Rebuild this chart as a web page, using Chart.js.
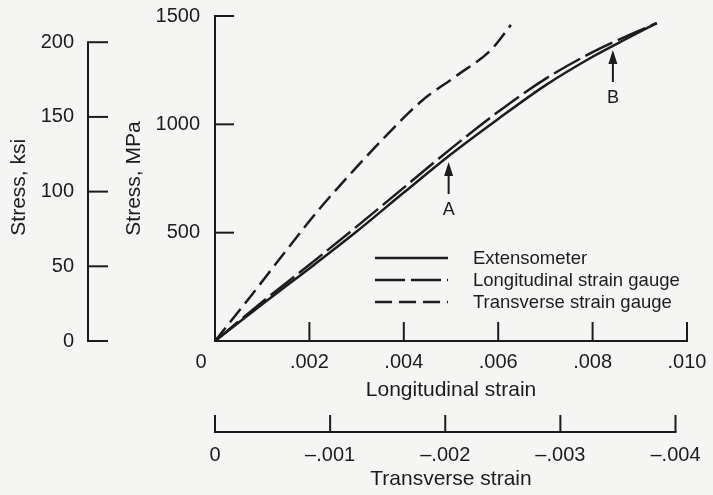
<!DOCTYPE html>
<html>
<head>
<meta charset="utf-8">
<title>Stress-strain response: extensometer and strain gauges</title>
<script src="https://cdn.jsdelivr.net/npm/chart.js@4.4.1/dist/chart.umd.min.js"></script>
<style>
  html, body { margin: 0; padding: 0; background: #f5f5f3; }
  canvas { display: block; }
</style>
</head>
<body>
<canvas id="chart" width="713" height="495"></canvas>
<script>
// Axis ticks
const LONG_TICKS = [0, 0.002, 0.004, 0.006, 0.008, 0.010];   // longitudinal strain
const TRANS_TICKS = [0, -0.001, -0.002, -0.003, -0.004];     // transverse strain
const MPA_TICKS = [500, 1000, 1500];                          // stress, MPa
const KSI_TICKS = [0, 50, 100, 150, 200];                     // stress, ksi
const MPA_PER_KSI = 6.894757;

// Extensometer (longitudinal strain, stress in MPa)
const EXT_STRAIN = [0, 0.001, 0.002, 0.003, 0.004, 0.005, 0.006, 0.007, 0.008, 0.0087, 0.00936];
const EXT_STRESS = [0, 170, 335, 505, 685, 862, 1025, 1180, 1312, 1393, 1467];

// Longitudinal strain gauge
const LSG_STRAIN = [0, 0.001, 0.002, 0.003, 0.004, 0.005, 0.006, 0.007, 0.008, 0.0087, 0.00936];
const LSG_STRESS = [0, 180, 352, 528, 708, 888, 1058, 1210, 1333, 1405, 1467];

// Transverse strain gauge (transverse strain, stress in MPa)
const TSG_STRAIN = [0, -0.0003, -0.0006, -0.0009, -0.0012, -0.0015, -0.0018, -0.0021, -0.0024, -0.00257];
const TSG_STRESS = [0, 200, 405, 605, 785, 955, 1110, 1225, 1345, 1459];

// Points A and B marked on the extensometer curve
const MARK_NAMES = ['A', 'B'];
const MARK_STRAIN = [0.00495, 0.00843];
const MARK_STRESS = [826, 1343];

const INK = '#1c1c1c';
const FAMILY = "'Liberation Sans', Arial, Helvetica, sans-serif";
const TICK_FONT = { family: FAMILY, size: 20 };
const TITLE_FONT = { family: FAMILY, size: 21 };

function points(xs, ys) {
  return xs.map((v, i) => ({ x: v, y: ys[i] }));
}
function setTicks(values) {
  return (scale) => { scale.ticks = values.map((v) => ({ value: v })); };
}
// Fixed box sizes; edge padding is handled by the layout padding instead
function fixedWidth(w) {
  return (scale) => {
    scale.width = w;
    scale.paddingTop = scale.paddingBottom = scale.paddingLeft = scale.paddingRight = 0;
  };
}
function fixedHeight(h) {
  return (scale) => {
    scale.height = h;
    scale.paddingTop = scale.paddingBottom = scale.paddingLeft = scale.paddingRight = 0;
  };
}

function seg(ctx, x1, y1, x2, y2) {
  ctx.beginPath();
  ctx.moveTo(x1, y1);
  ctx.lineTo(x2, y2);
  ctx.stroke();
}

// Axis lines with inward-pointing tick marks, legend and the A/B markers
const paperPlugin = {
  id: 'paper',
  beforeDraw(chart) {
    const { ctx, width, height } = chart;
    ctx.save();
    ctx.fillStyle = '#f5f5f3';
    ctx.fillRect(0, 0, width, height);
    ctx.restore();
  },
  afterDraw(chart) {
    const { ctx, scales } = chart;
    const sx = scales.x, st = scales.xT, sy = scales.y, sk = scales.yK;
    ctx.save();
    ctx.strokeStyle = INK;
    ctx.lineWidth = 2;

    // Stress, MPa
    const x0 = sx.getPixelForValue(0);
    const y0 = sy.getPixelForValue(0);
    seg(ctx, x0, y0 + 1, x0, sy.getPixelForValue(Math.max(...MPA_TICKS)) - 1);
    MPA_TICKS.forEach((v) => {
      const p = sy.getPixelForValue(v);
      seg(ctx, x0, p, x0 + 19, p);
    });

    // Longitudinal strain
    const xEnd = sx.getPixelForValue(Math.max(...LONG_TICKS));
    seg(ctx, x0 - 1, y0, xEnd + 1, y0);
    LONG_TICKS.filter((v) => v !== 0).forEach((v) => {
      const p = sx.getPixelForValue(v);
      seg(ctx, p, y0, p, y0 - 19);
    });

    // Stress, ksi
    const xk = sk.right;
    const kBottom = sk.getPixelForValue(Math.min(...KSI_TICKS));
    const kTop = sk.getPixelForValue(Math.max(...KSI_TICKS));
    seg(ctx, xk, kBottom + 1, xk, kTop - 1);
    KSI_TICKS.forEach((v) => {
      const p = sk.getPixelForValue(v);
      seg(ctx, xk, p, xk + 20, p);
    });

    // Transverse strain
    const yt = st.top;
    const tStart = st.getPixelForValue(Math.max(...TRANS_TICKS));
    const tEnd = st.getPixelForValue(Math.min(...TRANS_TICKS));
    seg(ctx, tStart - 1, yt, tEnd + 1, yt);
    TRANS_TICKS.forEach((v) => {
      const p = st.getPixelForValue(v);
      seg(ctx, p, yt, p, yt - 17);
    });

    // Legend
    const legX = 375, legLen = 73, legY = 258, legStep = 22;
    ctx.font = '18.5px ' + FAMILY;
    ctx.fillStyle = INK;
    ctx.textBaseline = 'middle';
    ctx.textAlign = 'left';
    chart.data.datasets.forEach((ds, i) => {
      const yy = legY + i * legStep;
      ctx.save();
      ctx.lineWidth = ds.borderWidth;
      ctx.setLineDash(ds.borderDash || []);
      seg(ctx, legX, yy, legX + legLen, yy);
      ctx.restore();
      ctx.fillText(ds.label, legX + 98, yy + 1);
    });

    // Arrows A and B
    ctx.font = '18px ' + FAMILY;
    ctx.textAlign = 'center';
    MARK_NAMES.forEach((name, i) => {
      const px = sx.getPixelForValue(MARK_STRAIN[i]);
      const tip = sy.getPixelForValue(MARK_STRESS[i]);
      ctx.beginPath();
      ctx.moveTo(px, tip);
      ctx.lineTo(px - 4.5, tip + 14);
      ctx.lineTo(px + 4.5, tip + 14);
      ctx.closePath();
      ctx.fill();
      ctx.lineWidth = 2;
      seg(ctx, px, tip + 12, px, tip + 32);
      ctx.fillText(name, px, tip + 48);
    });
    ctx.restore();
  }
};

const lineStyle = {
  borderColor: INK,
  borderWidth: 2.5,
  showLine: true,
  pointRadius: 0,
  pointHoverRadius: 0,
  fill: false,
  cubicInterpolationMode: 'monotone'
};

new Chart(document.getElementById('chart'), {
  type: 'scatter',
  data: {
    datasets: [
      Object.assign({}, lineStyle, {
        label: 'Extensometer',
        data: points(EXT_STRAIN, EXT_STRESS),
        xAxisID: 'x', yAxisID: 'y',
        borderDash: []
      }),
      Object.assign({}, lineStyle, {
        label: 'Longitudinal strain gauge',
        data: points(LSG_STRAIN, LSG_STRESS),
        xAxisID: 'x', yAxisID: 'y',
        borderDash: [30, 6]
      }),
      Object.assign({}, lineStyle, {
        label: 'Transverse strain gauge',
        data: points(TSG_STRAIN, TSG_STRESS),
        xAxisID: 'xT', yAxisID: 'y',
        borderDash: [17, 7]
      })
    ]
  },
  options: {
    responsive: false,
    animation: false,
    devicePixelRatio: 1,
    layout: { padding: { left: 0, top: 16, right: 26, bottom: 3 } },
    plugins: {
      legend: { display: false },
      tooltip: { enabled: false }
    },
    events: [],
    scales: {
      x: {
        type: 'linear',
        position: 'bottom',
        weight: 0,
        min: 0,
        max: 0.010,
        grid: { display: false, drawTicks: false },
        border: { display: false },
        afterBuildTicks: setTicks(LONG_TICKS),
        afterFit: fixedHeight(91),
        ticks: {
          autoSkip: false, maxRotation: 0, minRotation: 0,
          padding: 9, color: INK, font: TICK_FONT,
          callback: (v) => (v === 0 ? '0     ' : v.toFixed(3).slice(1))
        },
        title: {
          display: true, text: 'Longitudinal strain', color: INK, font: TITLE_FONT,
          padding: { top: 0, bottom: 29 }
        }
      },
      xT: {
        type: 'linear',
        position: 'bottom',
        weight: 1,
        min: -0.0041,
        max: 0,
        reverse: true,
        grid: { display: false, drawTicks: false },
        border: { display: false },
        afterBuildTicks: setTicks(TRANS_TICKS),
        afterFit: fixedHeight(60),
        ticks: {
          autoSkip: false, maxRotation: 0, minRotation: 0,
          padding: 11, color: INK, font: TICK_FONT,
          callback: (v) => (v === 0 ? '0' : '\u2013' + Math.abs(v).toFixed(3).slice(1))
        },
        title: {
          display: true, text: 'Transverse strain', color: INK, font: TITLE_FONT,
          padding: { top: 0, bottom: 0 }
        }
      },
      y: {
        type: 'linear',
        position: 'left',
        weight: 0,
        min: 0,
        max: 1500,
        grid: { display: false, drawTicks: false },
        border: { display: false },
        afterBuildTicks: setTicks(MPA_TICKS),
        afterFit: fixedWidth(127),
        ticks: { autoSkip: false, padding: 15, color: INK, font: TICK_FONT, callback: (v) => String(v) },
        title: {
          display: true, text: 'Stress, MPa', color: INK, font: TITLE_FONT,
          padding: { top: 34, bottom: 0 }
        }
      },
      yK: {
        type: 'linear',
        position: 'left',
        weight: 1,
        min: 0,
        max: 1500 / MPA_PER_KSI,
        grid: { display: false, drawTicks: false },
        border: { display: false },
        afterBuildTicks: setTicks(KSI_TICKS),
        afterFit: fixedWidth(88),
        ticks: { autoSkip: false, padding: 14, color: INK, font: TICK_FONT, callback: (v) => String(v) },
        title: {
          display: true, text: 'Stress, ksi   ', color: INK, font: TITLE_FONT,
          padding: { top: 7, bottom: 0 }
        }
      }
    }
  },
  plugins: [paperPlugin]
});
</script>
</body>
</html>
